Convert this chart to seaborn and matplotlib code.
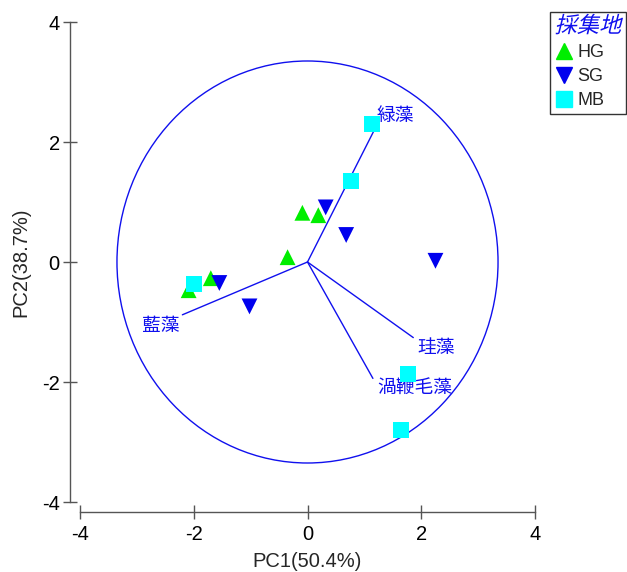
import matplotlib
matplotlib.use("Agg")
import matplotlib.pyplot as plt
import seaborn as sns
import pandas as pd
import numpy as np
from matplotlib.patches import Ellipse
from matplotlib.lines import Line2D
from matplotlib.patheffects import AbstractPathEffect
from matplotlib.transforms import Affine2D

sns.set_theme(style="white")
plt.rcParams['font.family'] = ['Liberation Sans', 'Noto Sans CJK JP', 'DejaVu Sans']

# scores
groups = ["HG"] * 5 + ["SG"] * 5 + ["MB"] * 5
pc1 = [-2.09, -1.70, -0.35, -0.09, 0.19,
       -1.55, -1.02, 0.32, 0.68, 2.25,
       -1.99, 1.14, 0.77, 1.77, 1.65]
pc2 = [-0.47, -0.27, 0.08, 0.82, 0.78,
       -0.35, -0.74, 0.91, 0.45, 0.02,
       -0.36, 2.30, 1.35, -1.87, -2.80]

# loadings
load_names = ["緑藻", "藍藻", "珪藻", "渦鞭毛藻"]
load_x = [1.18, -2.20, 1.86, 1.15]
load_y = [2.21, -0.88, -1.26, -1.94]

circle_r = 3.35
ticks = [-4, -2, 0, 2, 4]

df = pd.DataFrame({"PC1": pc1, "PC2": pc2, "採集地": groups})


class Oblique(AbstractPathEffect):
    def __init__(self, deg=14):
        super().__init__()
        self.deg = deg

    def draw_path(self, renderer, gc, tpath, affine, rgbFace=None):
        renderer.draw_path(gc, tpath, Affine2D().skew_deg(self.deg, 0) + affine, rgbFace)


fig = plt.figure(figsize=(6.27, 5.72), dpi=100)
ax = fig.add_axes([80 / 627, 70 / 572, 455 / 627, 480 / 572])

blue = "#1010ee"
ax.add_patch(Ellipse((0, 0), 2 * circle_r, 2 * circle_r, fill=False, ec=blue, lw=1.0, zorder=1))

for n, lx, ly in zip(load_names, load_x, load_y):
    ax.plot([0, lx], [0, ly], color=blue, lw=1.0, zorder=1)

offsets = {"緑藻": (0.04, 0.22, "left"), "藍藻": (-0.05, -0.19, "right"),
           "珪藻": (0.08, -0.18, "left"), "渦鞭毛藻": (0.08, -0.17, "left")}
for n, lx, ly in zip(load_names, load_x, load_y):
    dx, dy, ha = offsets[n]
    ax.text(lx + dx, ly + dy, n, color=blue, fontsize=13.5, ha=ha, va="center", zorder=3)

palette = {"HG": "#00ee00", "SG": "#0000ee", "MB": "#00ffff"}
markers = {"HG": "^", "SG": "v", "MB": "s"}
sns.scatterplot(data=df, x="PC1", y="PC2", hue="採集地", style="採集地",
                palette=palette, markers=markers, s=130, linewidth=0,
                legend=False, ax=ax, zorder=4)

ax.set_xlim(-4, 4)
ax.set_ylim(-4, 4)
ax.set_xticks(ticks)
ax.set_yticks(ticks)
ax.set_xticklabels([str(t) for t in ticks])
ax.set_yticklabels([str(t) for t in ticks])
ax.set_xlabel("PC1(50.4%)", fontsize=14.5, labelpad=5.5)
ax.set_ylabel("PC2(38.7%)", fontsize=14.5, labelpad=8)

for s in ["top", "right"]:
    ax.spines[s].set_visible(False)
for s in ["left", "bottom"]:
    ax.spines[s].set_visible(True)
    ax.spines[s].set_color("#555555")
    ax.spines[s].set_linewidth(1.0)
    ax.spines[s].set_position(("outward", 7.5))
ax.spines["left"].set_bounds(-4, 4)
ax.spines["bottom"].set_bounds(-4, 4)
ax.tick_params(axis="x", pad=4)
ax.tick_params(axis="y", pad=2)
ax.tick_params(axis="both", direction="inout", length=10, width=1.0, color="#555555",
               labelcolor="black", labelsize=14.5, left=True, bottom=True)
ax.grid(False)

handles = [Line2D([], [], marker=markers[g], color=palette[g], linestyle="", markersize=11)
           for g in ["HG", "SG", "MB"]]
leg = fig.legend(handles, ["HG", "SG", "MB"], title="採集地", loc="upper left",
                 bbox_to_anchor=(550 / 627, 1 - 12 / 572), fontsize=13,
                 frameon=True, fancybox=False, edgecolor="black", borderpad=0.25,
                 handletextpad=0.15, labelspacing=0.38, handlelength=1.1, borderaxespad=0,
                 alignment="left")
leg.get_title().set_color(blue)
leg.get_title().set_fontsize(16)
leg.get_title().set_path_effects([Oblique(14)])
leg.get_frame().set_linewidth(1.0)

fig.savefig("out.png", dpi=100)
